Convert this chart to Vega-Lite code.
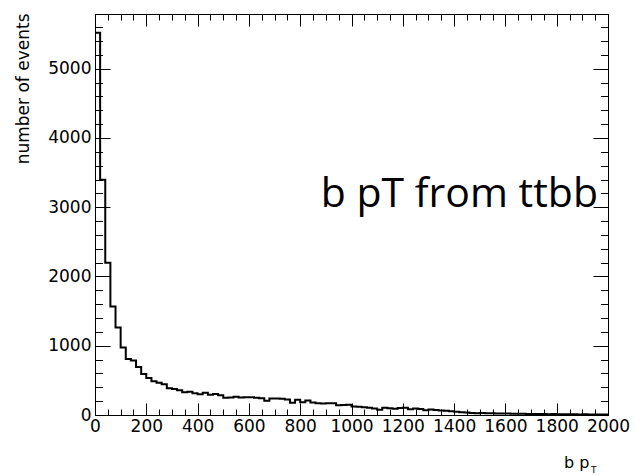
{
  "$schema": "https://vega.github.io/schema/vega-lite/v6.json",
  "width": 513,
  "height": 401,
  "autosize": {"type": "none"},
  "padding": {"left": 95, "top": 14, "right": 27, "bottom": 60},
  "background": "white",
  "config": {
    "view": {"stroke": "black", "strokeWidth": 1},
    "axis": {
      "domain": false,
      "grid": false,
      "tickColor": "black",
      "tickWidth": 1,
      "labelColor": "black",
      "titleColor": "black",
      "labelFont": "DejaVu Sans",
      "labelFontSize": 17,
      "titleFont": "DejaVu Sans",
      "titleFontSize": 17,
      "titleFontWeight": "normal",
      "labelFlush": false,
      "labelOverlap": false,
      "format": "d"
    }
  },
  "layer": [
    {
      "data": {
        "values": [
          {"lo": 0, "hi": 20, "n": 5520}, {"lo": 20, "hi": 40, "n": 3397}, {"lo": 40, "hi": 60, "n": 2200}, {"lo": 60, "hi": 80, "n": 1565},
          {"lo": 80, "hi": 100, "n": 1262}, {"lo": 100, "hi": 120, "n": 973}, {"lo": 120, "hi": 140, "n": 808}, {"lo": 140, "hi": 160, "n": 788},
          {"lo": 160, "hi": 180, "n": 692}, {"lo": 180, "hi": 200, "n": 592}, {"lo": 200, "hi": 220, "n": 536}, {"lo": 220, "hi": 240, "n": 488},
          {"lo": 240, "hi": 260, "n": 466}, {"lo": 260, "hi": 280, "n": 445}, {"lo": 280, "hi": 300, "n": 385}, {"lo": 300, "hi": 320, "n": 375},
          {"lo": 320, "hi": 340, "n": 358}, {"lo": 340, "hi": 360, "n": 330}, {"lo": 360, "hi": 380, "n": 334}, {"lo": 380, "hi": 400, "n": 315},
          {"lo": 400, "hi": 420, "n": 300}, {"lo": 420, "hi": 440, "n": 320}, {"lo": 440, "hi": 460, "n": 291}, {"lo": 460, "hi": 480, "n": 305},
          {"lo": 480, "hi": 500, "n": 286}, {"lo": 500, "hi": 520, "n": 250}, {"lo": 520, "hi": 540, "n": 252}, {"lo": 540, "hi": 560, "n": 262},
          {"lo": 560, "hi": 580, "n": 252}, {"lo": 580, "hi": 600, "n": 257}, {"lo": 600, "hi": 620, "n": 255}, {"lo": 620, "hi": 640, "n": 248},
          {"lo": 640, "hi": 660, "n": 243}, {"lo": 660, "hi": 680, "n": 205}, {"lo": 680, "hi": 700, "n": 238}, {"lo": 700, "hi": 720, "n": 238},
          {"lo": 720, "hi": 740, "n": 233}, {"lo": 740, "hi": 760, "n": 224}, {"lo": 760, "hi": 780, "n": 178}, {"lo": 780, "hi": 800, "n": 219},
          {"lo": 800, "hi": 820, "n": 185}, {"lo": 820, "hi": 840, "n": 209}, {"lo": 840, "hi": 860, "n": 180}, {"lo": 860, "hi": 880, "n": 170},
          {"lo": 880, "hi": 900, "n": 166}, {"lo": 900, "hi": 920, "n": 170}, {"lo": 920, "hi": 940, "n": 168}, {"lo": 940, "hi": 960, "n": 142},
          {"lo": 960, "hi": 980, "n": 145}, {"lo": 980, "hi": 1000, "n": 147}, {"lo": 1000, "hi": 1020, "n": 123}, {"lo": 1020, "hi": 1040, "n": 118},
          {"lo": 1040, "hi": 1060, "n": 113}, {"lo": 1060, "hi": 1080, "n": 103}, {"lo": 1080, "hi": 1100, "n": 94}, {"lo": 1100, "hi": 1120, "n": 75},
          {"lo": 1120, "hi": 1140, "n": 103}, {"lo": 1140, "hi": 1160, "n": 96}, {"lo": 1160, "hi": 1180, "n": 89}, {"lo": 1180, "hi": 1200, "n": 100},
          {"lo": 1200, "hi": 1220, "n": 103}, {"lo": 1220, "hi": 1240, "n": 84}, {"lo": 1240, "hi": 1260, "n": 94}, {"lo": 1260, "hi": 1280, "n": 88},
          {"lo": 1280, "hi": 1300, "n": 70}, {"lo": 1300, "hi": 1320, "n": 79}, {"lo": 1320, "hi": 1340, "n": 72}, {"lo": 1340, "hi": 1360, "n": 65},
          {"lo": 1360, "hi": 1380, "n": 60}, {"lo": 1380, "hi": 1400, "n": 55}, {"lo": 1400, "hi": 1420, "n": 46}, {"lo": 1420, "hi": 1440, "n": 40},
          {"lo": 1440, "hi": 1460, "n": 36}, {"lo": 1460, "hi": 1480, "n": 30}, {"lo": 1480, "hi": 1500, "n": 26}, {"lo": 1500, "hi": 1520, "n": 28},
          {"lo": 1520, "hi": 1540, "n": 25}, {"lo": 1540, "hi": 1560, "n": 24}, {"lo": 1560, "hi": 1580, "n": 22}, {"lo": 1580, "hi": 1600, "n": 20},
          {"lo": 1600, "hi": 1620, "n": 22}, {"lo": 1620, "hi": 1640, "n": 18}, {"lo": 1640, "hi": 1660, "n": 17}, {"lo": 1660, "hi": 1680, "n": 19},
          {"lo": 1680, "hi": 1700, "n": 15}, {"lo": 1700, "hi": 1720, "n": 16}, {"lo": 1720, "hi": 1740, "n": 14}, {"lo": 1740, "hi": 1760, "n": 15},
          {"lo": 1760, "hi": 1780, "n": 12}, {"lo": 1780, "hi": 1800, "n": 13}, {"lo": 1800, "hi": 1820, "n": 11}, {"lo": 1820, "hi": 1840, "n": 12},
          {"lo": 1840, "hi": 1860, "n": 10}, {"lo": 1860, "hi": 1880, "n": 11}, {"lo": 1880, "hi": 1900, "n": 9}, {"lo": 1900, "hi": 1920, "n": 10},
          {"lo": 1920, "hi": 1940, "n": 8}, {"lo": 1940, "hi": 1960, "n": 9}, {"lo": 1960, "hi": 1980, "n": 8}, {"lo": 1980, "hi": 2000, "n": 7}
        ]
      },
      "transform": [{"fold": ["lo", "hi"], "as": ["edge", "pt"]}],
      "layer": [
        {
          "mark": {"type": "line", "color": "black", "strokeWidth": 2, "strokeJoin": "miter", "strokeCap": "butt"},
          "encoding": {
            "x": {
              "field": "pt", "type": "quantitative",
              "scale": {"domain": [0, 2000], "nice": false, "zero": false},
              "axis": {
                "orient": "bottom",
                "values": [0, 200, 400, 600, 800, 1000, 1200, 1400, 1600, 1800, 2000],
                "format": "d",
                "tickSize": -12, "labelPadding": 15,
                "title": "b p", "titleFontSize": 16, "titleAlign": "right", "titleBaseline": "alphabetic",
                "titleX": 494, "titleY": 52
              }
            },
            "y": {
              "field": "n", "type": "quantitative",
              "scale": {"domain": [0, 5790], "nice": false},
              "axis": {
                "orient": "left",
                "values": [0, 1000, 2000, 3000, 4000, 5000],
                "format": "d",
                "tickSize": -15, "labelPadding": 19,
                "title": "number of events", "titleAngle": 270, "titleAlign": "right", "titleBaseline": "alphabetic",
                "titleX": -67, "titleY": -1
              }
            },
            "order": [{"field": "pt", "type": "quantitative"}, {"field": "edge", "type": "nominal"}]
          }
        },
        {
          "mark": {"type": "line", "opacity": 0},
          "encoding": {
            "x": {
              "field": "pt", "type": "quantitative",
              "axis": {
                "orient": "bottom", "labels": false, "title": null, "tickSize": -6,
                "values": [0, 50, 100, 150, 200, 250, 300, 350, 400, 450, 500, 550, 600, 650, 700, 750, 800, 850, 900, 950, 1000, 1050, 1100, 1150, 1200, 1250, 1300, 1350, 1400, 1450, 1500, 1550, 1600, 1650, 1700, 1750, 1800, 1850, 1900, 1950, 2000]
              }
            },
            "y": {
              "field": "n", "type": "quantitative",
              "axis": {
                "orient": "left", "labels": false, "title": null, "tickSize": -7.5,
                "values": [0, 200, 400, 600, 800, 1000, 1200, 1400, 1600, 1800, 2000, 2200, 2400, 2600, 2800, 3000, 3200, 3400, 3600, 3800, 4000, 4200, 4400, 4600, 4800, 5000, 5200, 5400, 5600]
              }
            }
          }
        },
        {
          "mark": {"type": "line", "opacity": 0},
          "encoding": {
            "x": {
              "field": "pt", "type": "quantitative",
              "axis": {
                "orient": "top", "labels": false, "title": null, "tickSize": -12,
                "values": [0, 200, 400, 600, 800, 1000, 1200, 1400, 1600, 1800, 2000]
              }
            },
            "y": {
              "field": "n", "type": "quantitative",
              "axis": {
                "orient": "right", "labels": false, "title": null, "tickSize": -15,
                "values": [0, 1000, 2000, 3000, 4000, 5000]
              }
            }
          }
        },
        {
          "mark": {"type": "line", "opacity": 0},
          "encoding": {
            "x": {
              "field": "pt", "type": "quantitative",
              "axis": {
                "orient": "top", "labels": false, "title": null, "tickSize": -6,
                "values": [0, 50, 100, 150, 200, 250, 300, 350, 400, 450, 500, 550, 600, 650, 700, 750, 800, 850, 900, 950, 1000, 1050, 1100, 1150, 1200, 1250, 1300, 1350, 1400, 1450, 1500, 1550, 1600, 1650, 1700, 1750, 1800, 1850, 1900, 1950, 2000]
              }
            },
            "y": {
              "field": "n", "type": "quantitative",
              "axis": {
                "orient": "right", "labels": false, "title": null, "tickSize": -7.5,
                "values": [0, 200, 400, 600, 800, 1000, 1200, 1400, 1600, 1800, 2000, 2200, 2400, 2600, 2800, 3000, 3200, 3400, 3600, 3800, 4000, 4200, 4400, 4600, 4800, 5000, 5200, 5400, 5600]
              }
            }
          }
        }
      ]
    },
    {
      "data": {"values": [{"label": "b pT from ttbb"}]},
      "mark": {"type": "text", "font": "Open Sans", "fontSize": 41, "align": "left", "baseline": "alphabetic", "color": "black"},
      "encoding": {
        "text": {"field": "label"},
        "x": {"datum": 880, "type": "quantitative", "axis": null},
        "y": {"datum": 3000, "type": "quantitative", "axis": null}
      }
    },
    {
      "data": {"values": [{"label": "T"}]},
      "mark": {"type": "text", "font": "DejaVu Sans", "fontSize": 9, "align": "left", "baseline": "alphabetic", "color": "black", "dx": -17, "dy": 58},
      "encoding": {
        "text": {"field": "label"},
        "x": {"datum": 2000, "type": "quantitative", "axis": null},
        "y": {"datum": 0, "type": "quantitative", "axis": null}
      }
    }
  ],
  "resolve": {"axis": {"x": "independent", "y": "independent"}}
}
